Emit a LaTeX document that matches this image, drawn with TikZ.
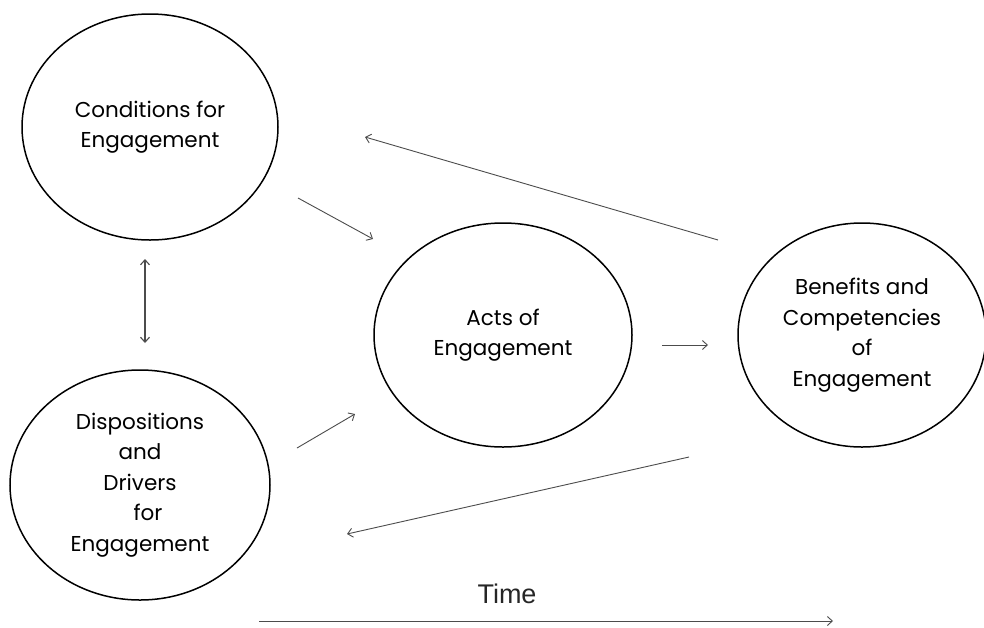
\documentclass[tikz,border=0pt]{standalone}
\usepackage{fontspec}
\setmainfont{Poppins}
\newfontfamily\timefont{Liberation Sans}
\usetikzlibrary{shapes.geometric,arrows.meta}
\begin{document}
\begin{tikzpicture}[x=1pt,y=-1pt,
  bubble/.style={draw=black, line width=1.5pt, ellipse, inner sep=0pt, align=center,
    font=\fontsize{21.5}{30.5}\selectfont},
  arr/.style={draw=black!70, line width=0.9pt, -{Straight Barb[length=5pt,width=9pt,line width=0.9pt]}},
  darr/.style={draw=black!70, line width=1.1pt, {Straight Barb[length=5pt,width=9pt]}-{Straight Barb[length=5pt,width=9pt]}},
]
\useasboundingbox (0,0) rectangle (984,627);
\fill[white] (0,0) rectangle (984,627);

\node[bubble, minimum width=256pt, minimum height=226pt] (cond) at (150,127) {Conditions for\\Engagement};
\node[bubble, minimum width=260pt, minimum height=230pt] (disp) at (140,485) {Dispositions\\and\\Drivers\\\hspace*{16pt}for\\Engagement};
\node[bubble, minimum width=258pt, minimum height=224pt] (acts) at (503,335) {Acts of\\Engagement};
\node[bubble, minimum width=248pt, minimum height=224pt] (bene) at (862,335) {Benefits and\\Competencies\\of\\Engagement};

\coordinate (c2aS) at (298,198);  \coordinate (c2aE) at (373,239);
\coordinate (d2aS) at (297,448);  \coordinate (d2aE) at (355,414);
\coordinate (a2bS) at (662,345);  \coordinate (a2bE) at (708,345);
\coordinate (b2cS) at (718,240);  \coordinate (b2cE) at (365,137);
\coordinate (b2dS) at (689,457);  \coordinate (b2dE) at (347,534);
\coordinate (cdT) at (145,259);   \coordinate (cdB) at (145,343);
\coordinate (tS) at (259,621);    \coordinate (tE) at (833,621);

\draw[arr] (c2aS) -- (c2aE);
\draw[arr] (d2aS) -- (d2aE);
\draw[arr] (a2bS) -- (a2bE);
\draw[arr] (b2cS) -- (b2cE);
\draw[arr] (b2dS) -- (b2dE);
\draw[darr] (cdT) -- (cdB);
\draw[arr] (tS) -- (tE);

\node[font=\timefont\fontsize{27}{30}\selectfont, text=black!85] (time) at (507,594) {Time};
\end{tikzpicture}
\end{document}
